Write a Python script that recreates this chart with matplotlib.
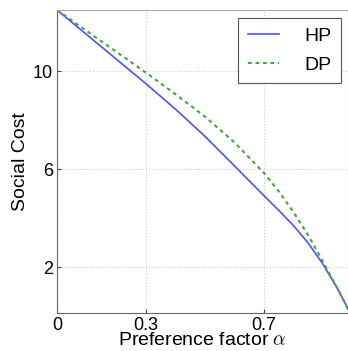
import matplotlib
matplotlib.use("Agg")
import matplotlib.pyplot as plt

plt.rcParams['font.family'] = ['Liberation Sans', 'DejaVu Sans']
plt.rcParams['mathtext.fontset'] = 'cm'

alpha = [0.0, 0.1, 0.2, 0.3, 0.4, 0.5, 0.6, 0.7, 0.75, 0.8, 0.85, 0.9, 0.95, 0.984]
hp = [12.5, 11.5, 10.5, 9.5, 8.46, 7.35, 6.14, 4.92, 4.32, 3.7, 2.98, 2.12, 1.1, 0.3]
dp = [12.5, 11.65, 10.8, 9.95, 9.07, 8.15, 7.1, 5.85, 5.1, 4.25, 3.3, 2.22, 1.1, 0.3]
xticks = [0, 0.3, 0.7]
xticklabels = ['0', '0.3', '0.7']
yticks = [2, 6, 10]

fig = plt.figure(figsize=(3.48, 3.51), dpi=100)
ax = fig.add_axes([57/348, 38.3/351, (348-57)/348, (312.7-10)/351])
ax.plot(alpha, hp, color='#5050ff', lw=1.2, label='HP')
ax.plot(alpha, dp, color='#40a840', lw=1.5, ls=(0, (1.8, 1.8)), label='DP')
ax.set_xlim(0, 0.984)
ax.set_ylim(0.15, 12.5)
ax.set_xticks(xticks)
ax.set_xticklabels(xticklabels)
ax.set_yticks(yticks)
ax.grid(True, color='#cccccc', ls=':', lw=0.8)
ax.tick_params(direction='in', length=3, labelsize=13, color='#444444', pad=3)
for s in ax.spines.values():
    s.set_color('#666666')
ax.spines['top'].set_color('#aaaaaa')
ax.set_xlabel(r'Preference factor $\alpha$', fontsize=14, labelpad=-1)
ax.set_ylabel('Social Cost', fontsize=14, labelpad=3)
leg = ax.legend(loc='upper right', bbox_to_anchor=(0.976, 0.974), borderaxespad=0,
                fontsize=14, fancybox=False, edgecolor='#555555', framealpha=1,
                handlelength=1.6, handletextpad=1.3, borderpad=0.5, labelspacing=0.55)
leg.get_frame().set_linewidth(0.8)
fig.savefig('out.png', dpi=100)
